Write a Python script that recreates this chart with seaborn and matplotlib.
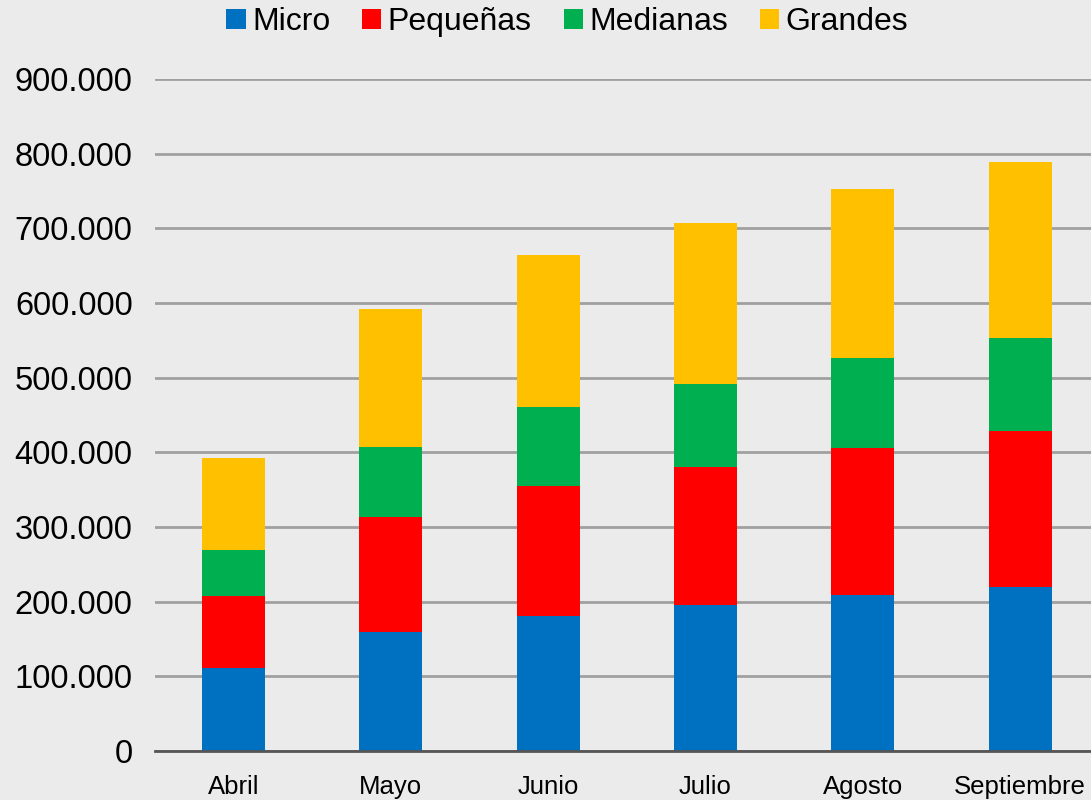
import numpy as np
import pandas as pd
import matplotlib.pyplot as plt
import seaborn as sns
from matplotlib.patches import Patch

meses = ['Abril', 'Mayo', 'Junio', 'Julio', 'Agosto', 'Septiembre']
micro = [111000, 159000, 181000, 195500, 209000, 220000]
pequenas = [96500, 154000, 174000, 184500, 197000, 208500]
medianas = [61500, 94000, 106000, 111500, 120000, 124500]
grandes = [123000, 185000, 203000, 215500, 227000, 236000]

series = ['Micro', 'Pequeñas', 'Medianas', 'Grandes']
colores = ['#0070C0', '#FF0000', '#00B050', '#FFC000']

sns.set_theme(style="white")
plt.rcParams['font.family'] = ['Liberation Sans', 'DejaVu Sans']

df = pd.DataFrame({'mes': meses, 'Micro': micro, 'Pequeñas': pequenas,
                   'Medianas': medianas, 'Grandes': grandes})
# cumulative totals for the stacked look
cum = df[series].cumsum(axis=1)

bg = '#EBEBEB'
fig = plt.figure(figsize=(10.91, 8.0), dpi=100, facecolor=bg)
ax = fig.add_axes([0.142, 0.06125, 0.858, 0.84])
ax.set_facecolor(bg)

# draw tallest layer first so lower layers sit on top
for s, c in reversed(list(zip(series, colores))):
    sns.barplot(x=df['mes'], y=cum[s], color=c, width=0.4, ax=ax,
                saturation=1, linewidth=0, zorder=3)

ax.set_ylim(0, 900000)
ax.set_xlim(-0.5, 5.45)
ax.set_yticks(np.arange(0, 900001, 100000))
ax.set_yticklabels(['0'] + [f'{v // 1000}.000' for v in range(100000, 900001, 100000)],
                   fontsize=23.5)
ax.set_xticks(range(len(meses)))
ax.set_xticklabels(meses, fontsize=18.5)
ax.tick_params(axis='y', length=0, pad=16, colors='black')
ax.tick_params(axis='x', length=0, pad=17, colors='black')
ax.set_xlabel('')
ax.set_ylabel('')

ax.grid(axis='y', color='#A0A0A0', linewidth=2, zorder=0)
ax.set_axisbelow(True)
for side in ['top', 'right', 'left']:
    ax.spines[side].set_visible(False)
ax.spines['bottom'].set_color('#555555')
ax.spines['bottom'].set_linewidth(2)
ax.spines['bottom'].set_zorder(4)

handles = [Patch(facecolor=c, edgecolor='none', label=s) for s, c in zip(series, colores)]
fig.legend(handles=handles, loc='center', bbox_to_anchor=(0.52, 0.972), ncol=4,
           frameon=False, fontsize=23, handlelength=0.6, handleheight=0.6,
           handletextpad=0.2, columnspacing=1.0, labelcolor='black')

fig.savefig('out.png', dpi=100, facecolor=bg)
